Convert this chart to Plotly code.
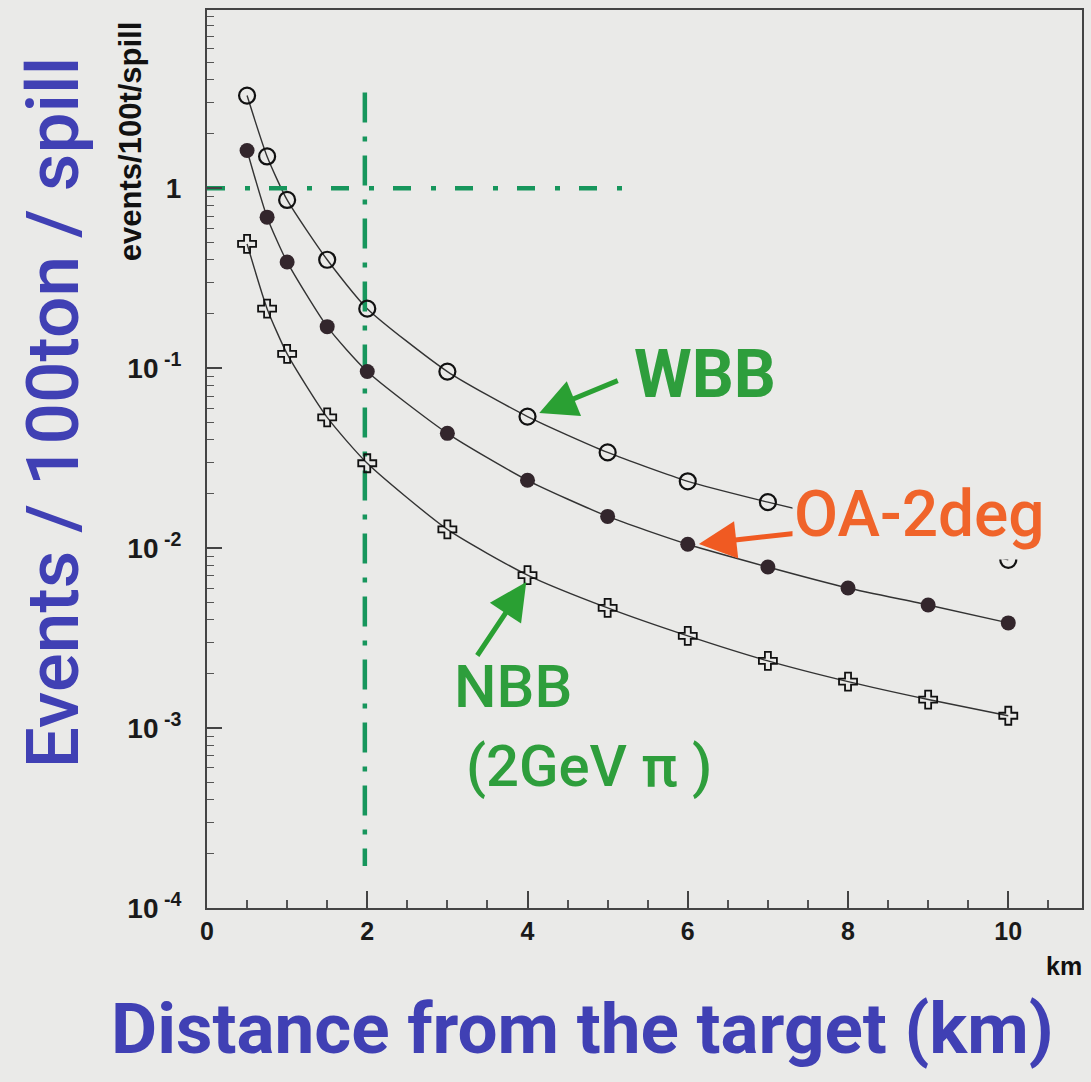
import plotly.graph_objects as go

# ---- data ----
dist_wbb = [0.5, 0.75, 1.0, 1.5, 2.0, 3.0, 4.0, 5.0, 6.0, 7.0, 10.0]
ev_wbb = [3.27, 1.50, 0.86, 0.40, 0.214, 0.0957, 0.0538, 0.034, 0.0235, 0.018, 0.0086]

dist_oa = [0.5, 0.75, 1.0, 1.5, 2.0, 3.0, 4.0, 5.0, 6.0, 7.0, 8.0, 9.0, 10.0]
ev_oa = [1.62, 0.69, 0.389, 0.170, 0.0957, 0.0434, 0.0238, 0.0150, 0.0105, 0.00785, 0.0060, 0.00483, 0.00384]

dist_nbb = [0.5, 0.75, 1.0, 1.5, 2.0, 3.0, 4.0, 5.0, 6.0, 7.0, 8.0, 9.0, 10.0]
ev_nbb = [0.49, 0.214, 0.120, 0.0532, 0.0296, 0.0127, 0.00708, 0.00465, 0.00325, 0.00236, 0.00181, 0.00144, 0.00117]

# reference cut lines
hline_x = [0.0, 5.23]
hline_y = [1.0, 1.0]
vline_x = [1.97, 1.97]
vline_y = [3.4, 1.71e-4]

x_ticks = [0, 2, 4, 6, 8, 10]
y_ticks = [1e-4, 1e-3, 1e-2, 1e-1, 1]
y_ticktext = ["10<sup> -4</sup>", "10<sup> -3</sup>", "10<sup> -2</sup>", "10<sup> -1</sup>", "1"]
y_minor = [k * 10.0 ** n for n in range(-4, 1) for k in range(2, 10)]

BG = "#eaeae8"
VW, VH = 1091, 1082
L, R, T, B = 207, 1084, 10, 908   # plot area in pixels


def px(xp):
    return (xp - L) / (R - L)


def py(yp):
    return (B - yp) / (B - T)


fig = go.Figure()

# fit curves
for xs, ys in [(dist_wbb, ev_wbb), (dist_oa, ev_oa), (dist_nbb, ev_nbb)]:
    fig.add_trace(go.Scatter(x=xs, y=ys, mode="lines",
                             line=dict(color="#333333", width=1.4, shape="spline", smoothing=0.6),
                             hoverinfo="skip", showlegend=False))

# dash-dot guide lines
fig.add_trace(go.Scatter(x=hline_x, y=hline_y, mode="lines",
                         line=dict(color="#17965c", width=4.5, dash="18px,20px,5px,19px"),
                         showlegend=False, hoverinfo="skip"))
fig.add_trace(go.Scatter(x=vline_x, y=vline_y, mode="lines",
                         line=dict(color="#17965c", width=4.5, dash="30px,14px,5px,14px"),
                         showlegend=False, hoverinfo="skip"))

# markers
fig.add_trace(go.Scatter(x=dist_wbb, y=ev_wbb, mode="markers", name="WBB",
                         marker=dict(symbol="circle-open", size=16, color="#111111", line=dict(width=2.2)),
                         showlegend=False))
fig.add_trace(go.Scatter(x=dist_oa, y=ev_oa, mode="markers", name="OA-2deg",
                         marker=dict(symbol="circle", size=15, color="#33262c"),
                         showlegend=False))
fig.add_trace(go.Scatter(x=dist_nbb, y=ev_nbb, mode="markers", name="NBB",
                         marker=dict(symbol="cross-open", size=15, color="#111111", line=dict(width=1.8)),
                         showlegend=False))

cond = "Roboto, Liberation Sans, sans-serif"
arial = "Liberation Sans, Arial, sans-serif"
green = "#2e9e3c"
orange = "#f0642a"
blue = "#4040b4"


def arrow(tip, tail, color):
    return dict(xref="paper", yref="paper", x=px(tip[0]), y=py(tip[1]),
                ax=tail[0] - tip[0], ay=tail[1] - tip[1], axref="pixel", ayref="pixel",
                showarrow=True, arrowhead=2, arrowsize=1.5, arrowwidth=5,
                arrowcolor=color, text="")


def label(x, y, text, font, **kw):
    d = dict(xref="paper", yref="paper", x=px(x), y=py(y), text=text, showarrow=False,
             xanchor="center", yanchor="middle", font=font)
    d.update(kw)
    return d


ann = []
ann.append(arrow((540, 413), (620, 380), "#2aa033"))
ann.append(arrow((700, 544), (808, 532), "#f05a22"))
ann.append(arrow((527, 582), (477, 657), "#2aa033"))
# background patch behind the OA-2deg label (hides the end of the WBB curve)
ann.append(label(921, 524, " ", dict(family=cond, size=20, color=BG),
                 bgcolor=BG, width=252, height=70, borderpad=0))
# labels
ann.append(label(706, 374, "WBB", dict(family=cond, size=66, color=green, weight="bold")))
ann.append(label(921, 514, "OA-2deg", dict(family=cond, size=64, color=orange, weight=500)))
ann.append(label(514, 686, "NBB", dict(family=cond, size=60, color=green, weight=500)))
ann.append(label(590, 766, "(2GeV π )", dict(family=cond, size=58, color=green, weight=500)))
# axis titles
ann.append(label(583, 1028, "Distance from the target (km)", dict(family=cond, size=71, color=blue, weight="bold")))
ann.append(label(53, 412, "Events / 100ton / spill", dict(family=cond, size=73, color=blue, weight=500),
                 textangle=-90))
ann.append(label(131, 141, "events/100t/spill", dict(family=arial, size=31, color="#111111", weight="bold"),
                 textangle=-90))
ann.append(label(1066, 966, "km", dict(family=arial, size=25, color="#111111", weight="bold")))

fig.update_layout(
    width=VW, height=VH,
    margin=dict(l=L, r=VW - R, t=T, b=VH - B),
    paper_bgcolor=BG, plot_bgcolor=BG,
    annotations=ann,
    showlegend=False,
)
fig.update_xaxes(range=[0, 10.92], tickmode="array", tickvals=x_ticks,
                 ticks="inside", ticklen=17, tickwidth=2, tickcolor="#444",
                 minor=dict(dtick=0.5, tick0=0, ticks="inside", ticklen=8, tickwidth=1.5, tickcolor="#555", showgrid=False),
                 showline=True, linecolor="#444", linewidth=2, mirror=True,
                 showgrid=False, zeroline=False,
                 tickfont=dict(family=arial, size=25, color="#1a1a1a", weight="bold"),
                 ticklabelstandoff=0)
fig.update_yaxes(type="log", range=[-4, 0.99], tickmode="array", tickvals=y_ticks, ticktext=y_ticktext,
                 ticks="inside", ticklen=15, tickwidth=1.5, tickcolor="#444",
                 minor=dict(tickmode="array", tickvals=y_minor, ticks="inside", ticklen=7, tickwidth=1.2, tickcolor="#555", showgrid=False),
                 showline=True, linecolor="#444", linewidth=2, mirror=True,
                 showgrid=False, zeroline=False,
                 tickfont=dict(family=arial, size=28, color="#1a1a1a", weight="bold"),
                 ticklabelstandoff=18)

fig.write_html("out.html", config={"displayModeBar": False},
               post_script="document.body.style.margin='0';document.body.style.background='%s';" % BG)
